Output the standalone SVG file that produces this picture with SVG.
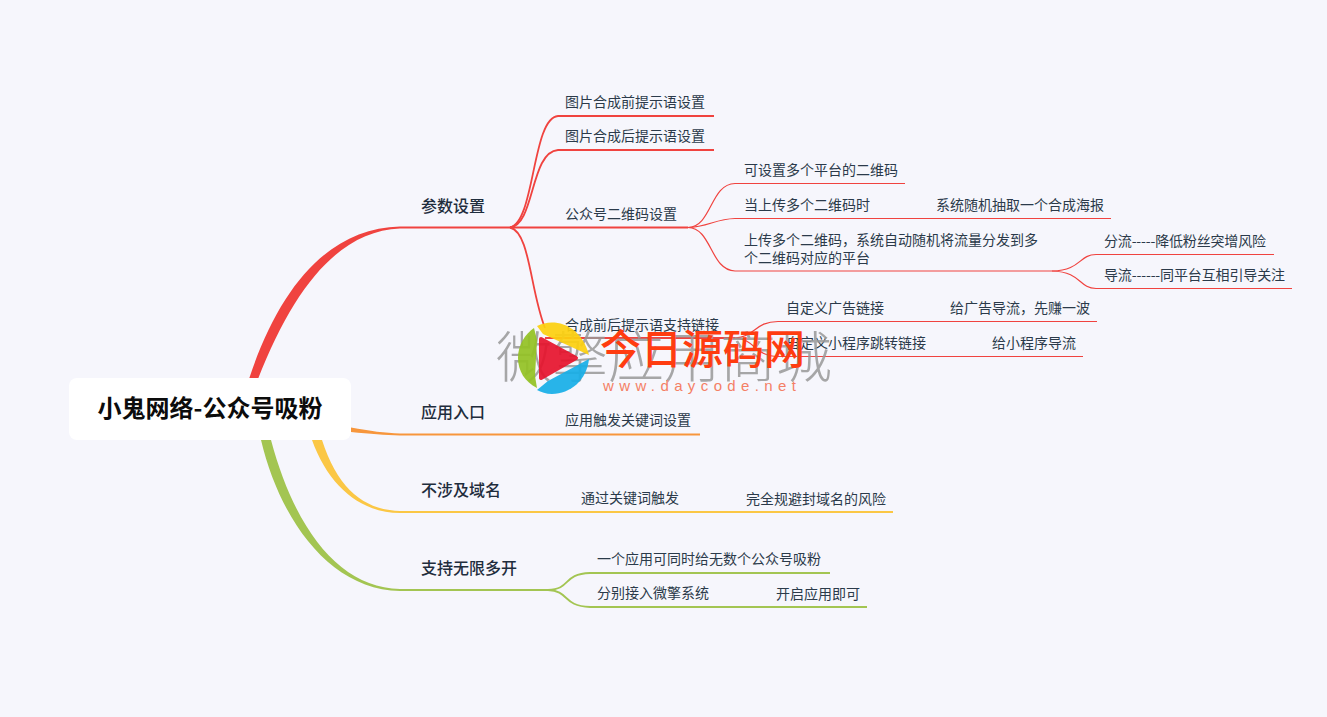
<svg xmlns="http://www.w3.org/2000/svg" width="1327" height="717" viewBox="0 0 1327 717">
<style>
text{font-family:"Noto Sans CJK SC","Liberation Sans",sans-serif;fill:#1f2d3d}
.l1{font-size:14px;fill:#2b3a4a}
.t{font-size:16px;font-weight:500}
.root{font-size:24px;font-weight:700;fill:#0c0c0c}
.c path{fill:none;stroke-linecap:butt}
.r{stroke:#f0433f}.r1{stroke-width:1.2}.r2{stroke-width:1.8}
.o{stroke:#f7963c}.y{stroke:#fbc745}.g{stroke:#a3c552}
.wm{font-size:55px;font-weight:300;fill:#999;opacity:.85}
.wr{font-size:41px;font-weight:500;fill:#ff3c10}
.wu{font-size:15px;fill:#f47f65;font-family:"Liberation Sans",sans-serif}
</style>
<rect width="1327" height="717" fill="#f6f6fc"/>
<g id="connectors" class="c">
<path style="fill:#f0433f;stroke:none" d="M249 379C280 285 330 228 400 226.500V228.500C340 231 295 285 258 379Z"/>
<path class="r r2" d="M400 227.500H510"/>
<path class="r r2" d="M510 227.500C535 222 532 118 558 116H714"/>
<path class="r r2" d="M510 227.500C535 225 530 152 558 150H714"/>
<path class="r r2" d="M510 227.500H688"/>
<path class="r r2" d="M510 227.500C530 232 530 290 545 328"/>
<path class="r r1" d="M688 227.500C712 227 710 184 735 183.500H905"/>
<path class="r r1" d="M688 227.500C708 227 715 219 735 218.500H1111"/>
<path class="r r1" d="M688 227.500C712 228 710 270 735 271H1052"/>
<path class="r r1" d="M1052 271C1082 270 1078 255 1096 254.500H1274"/>
<path class="r r1" d="M1052 271C1082 272 1078 288 1096 288.500H1292"/>
<path class="r r2" d="M545 338H735"/>
<path class="r r1" d="M735 338C755 337 755 321.500 778 321.500H1097"/>
<path class="r r1" d="M735 338C755 339 755 356.500 778 356.500H1083"/>
<path style="fill:#f7963c;stroke:none" d="M351 427.500C370 431 385 433 400 433.500V435.500C385 435 370 434 351 432Z"/>
<path class="o" stroke-width="2" d="M400 434.500H700"/>
<path style="fill:#fbc745;stroke:none" d="M312 440C328 485 360 513 400 513V511C365 510 338 490 322 440Z"/>
<path class="y" stroke-width="2" d="M400 512H893"/>
<path style="fill:#a3c552;stroke:none" d="M261 440C280 520 330 590 400 591V589C340 588 295 530 271 440Z"/>
<path class="g" stroke-width="2" d="M400 590H548"/>
<path class="g" stroke-width="1.800" d="M548 590C572 589 562 574 590 573H830"/>
<path class="g" stroke-width="1.800" d="M548 590C570 591 562 606 590 607H867"/>
</g>
<g id="root"><rect x="69" y="378" width="282" height="62" rx="8" fill="#fff"/><text class="root" x="210" y="417" text-anchor="middle">小鬼网络-公众号吸粉</text></g>
<g id="n1"><text class="t" x="421" y="212">参数设置</text></g>
<g id="n2"><text class="t" x="421" y="418">应用入口</text></g>
<g id="n3"><text class="t" x="421" y="496">不涉及域名</text></g>
<g id="n4"><text class="t" x="421" y="574">支持无限多开</text></g>
<g id="n11"><text class="l1" x="565" y="107">图片合成前提示语设置</text></g>
<g id="n12"><text class="l1" x="565" y="141">图片合成后提示语设置</text></g>
<g id="n13"><text class="l1" x="565" y="219">公众号二维码设置</text></g>
<g id="n14"><text class="l1" x="565" y="330">合成前后提示语支持链接</text></g>
<g id="n131"><text class="l1" x="744" y="175">可设置多个平台的二维码</text></g>
<g id="n132"><text class="l1" x="744" y="210">当上传多个二维码时</text></g>
<g id="n133"><text class="l1" x="936" y="210">系统随机抽取一个合成海报</text></g>
<g id="n134"><text class="l1" x="744" y="245">上传多个二维码，系统自动随机将流量分发到多</text><text class="l1" x="744" y="263">个二维码对应的平台</text></g>
<g id="n135"><text class="l1" x="1104" y="246" textLength="162">分流-----降低粉丝突增风险</text></g>
<g id="n136"><text class="l1" x="1104" y="280" textLength="181">导流------同平台互相引导关注</text></g>
<g id="n141"><text class="l1" x="786" y="313">自定义广告链接</text></g>
<g id="n142"><text class="l1" x="950" y="313">给广告导流，先赚一波</text></g>
<g id="n143"><text class="l1" x="786" y="348">自定义小程序跳转链接</text></g>
<g id="n144"><text class="l1" x="992" y="348">给小程序导流</text></g>
<g id="n21"><text class="l1" x="565" y="425">应用触发关键词设置</text></g>
<g id="n31"><text class="l1" x="581" y="503">通过关键词触发</text></g>
<g id="n32"><text class="l1" x="746" y="504">完全规避封域名的风险</text></g>
<g id="n41"><text class="l1" x="597" y="564">一个应用可同时给无数个公众号吸粉</text></g>
<g id="n42"><text class="l1" x="597" y="598">分别接入微擎系统</text></g>
<g id="n43"><text class="l1" x="776" y="599">开启应用即可</text></g>
<g id="watermark">
<text class="wm" x="496" y="377" textLength="336" lengthAdjust="spacingAndGlyphs">微擎应用商城</text>
<g opacity=".92">
<path style="fill:#94c324;stroke:none" d="M534 328L537 340L535 376L537 388C525 382 518 371 518 358C518 345 525 334 534 328Z"/>
<path style="fill:#fdd10f;stroke:none" d="M537 326C555 317 581 325 589 355L543 334Z"/>
<path style="fill:#17afe8;stroke:none" d="M589 359C587 380 570 394 552 394C546 394 541 392 537 390L548 381Z"/>
<path style="fill:#e7142d;stroke:#e7142d;stroke-width:4;stroke-linejoin:round" d="M541 339L576 358L541 378Z"/>
</g>
<text class="wr" x="600" y="364">今日源码网</text>
<text class="wu" x="603" y="391" textLength="193">www.daycode.net</text>
</g>
</svg>
